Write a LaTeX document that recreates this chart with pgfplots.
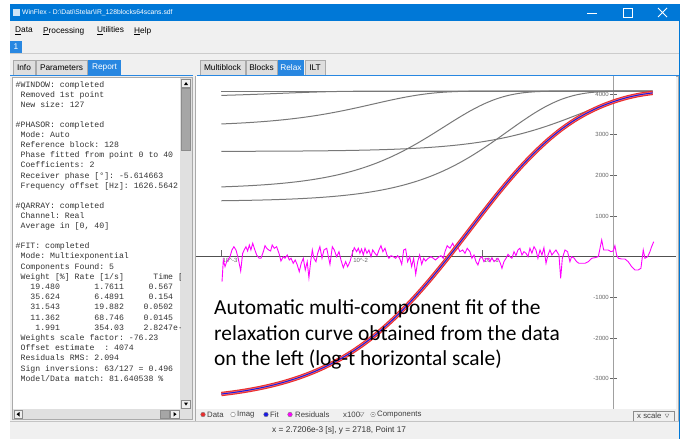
\documentclass[border=0pt]{standalone}
\usepackage{fontspec}
\setmainfont{Liberation Sans}
\setmonofont{Liberation Mono}
\newfontfamily\carlito{Carlito}
\usepackage{pgfplots}
\usepackage{pgfplotstable}
\pgfplotsset{compat=1.18}

\definecolor{winbg}{RGB}{240,240,240}
\definecolor{winblue}{RGB}{0,120,215}
\definecolor{tabblue}{RGB}{40,135,225}
\definecolor{tabgray}{RGB}{222,222,222}
\definecolor{frame}{RGB}{170,170,170}
\definecolor{compgray}{RGB}{120,120,120}
\definecolor{datared}{RGB}{235,45,45}
\definecolor{datapink}{RGB}{245,120,120}
\definecolor{fitblue}{RGB}{25,25,230}
\definecolor{resmag}{RGB}{255,0,255}
\definecolor{xaxis}{RGB}{80,80,80}
\definecolor{yaxis}{RGB}{160,160,160}

% fit curve and the five components (log10 t [s], value)
\pgfplotstableread{
logt fit c1 c2 c3 c4 c5
-3.0 -3378.7 2591.6 1376.0 1716.8 3265.4 3967.5
-2.9 -3337.8 2592.3 1380.5 1728.9 3279.7 3976.8
-2.8 -3287.9 2593.2 1386.2 1744.1 3297.3 3987.4
-2.7 -3227.5 2594.3 1393.3 1763.0 3318.9 3999.1
-2.6 -3154.6 2595.6 1402.3 1786.6 3345.2 4011.6
-2.5 -3067.6 2597.3 1413.5 1816.0 3377.1 4024.5
-2.4 -2964.3 2599.4 1427.6 1852.5 3415.3 4036.9
-2.3 -2842.5 2602.1 1445.3 1897.5 3460.3 4048.3
-2.2 -2699.8 2605.5 1467.3 1953.0 3512.7 4057.7
-2.1 -2533.6 2609.7 1494.8 2020.7 3572.3 4064.9
-2.0 -2340.9 2615.0 1529.0 2103.0 3638.5 4069.6
-1.9 -2119.3 2621.6 1571.4 2202.0 3709.5 4072.2
-1.8 -1866.8 2629.9 1623.8 2319.4 3782.7 4073.4
-1.7 -1582.4 2640.3 1688.2 2456.9 3854.3 4073.9
-1.6 -1267.2 2653.3 1766.9 2614.7 3920.0 4074.0
-1.5 -923.1 2669.5 1862.2 2791.7 3975.5 4074.0
-1.4 -553.5 2689.6 1976.7 2984.3 4017.9 4074.0
-1.3 -162.5 2714.5 2112.4 3186.3 4046.4 4074.0
-1.2 244.8 2745.2 2270.8 3388.2 4062.7 4074.0
-1.1 661.8 2782.9 2452.2 3578.4 4070.3 4074.0
-1.0 1079.5 2828.8 2654.8 3744.7 4073.1 4074.0
-0.9 1487.7 2884.3 2874.3 3877.2 4073.9 4074.0
-0.8 1876.8 2950.7 3103.0 3971.1 4074.0 4074.0
-0.7 2239.5 3029.0 3330.0 4028.5 4074.0 4074.0
-0.6 2571.5 3119.9 3541.9 4057.7 4074.0 4074.0
-0.5 2869.8 3223.2 3725.1 4069.5 4074.0 4074.0
-0.4 3131.5 3337.4 3868.9 4073.1 4074.0 4074.0
-0.3 3354.5 3459.7 3968.9 4073.9 4074.0 4074.0
-0.2 3539.9 3585.2 4028.7 4074.0 4074.0 4074.0
-0.1 3691.7 3707.4 4058.3 4074.0 4074.0 4074.0
0.0 3814.7 3818.8 4069.9 4074.0 4074.0 4074.0
0.1 3911.5 3912.3 4073.2 4074.0 4074.0 4074.0
0.2 3982.8 3982.9 4073.9 4074.0 4074.0 4074.0
0.3 4029.8 4029.8 4074.0 4074.0 4074.0 4074.0
}\fitdata

% residuals x100
\pgfplotstableread{
logt res
-2.995 -615
-2.985 -81
-2.972 -246
-2.959 -123
-2.934 0
-2.919 165
-2.904 246
-2.888 165
-2.871 -39
-2.852 -352
-2.837 84
-2.825 165
-2.812 246
-2.799 140
-2.786 288
-2.774 165
-2.760 330
-2.748 207
-2.730 42
-2.710 -39
-2.697 -39
-2.679 123
-2.666 271
-2.653 207
-2.638 165
-2.623 140
-2.611 288
-2.595 207
-2.577 246
-2.557 59
-2.544 -106
-2.526 0
-2.513 -39
-2.496 42
-2.480 -81
-2.467 -39
-2.450 -162
-2.435 -81
-2.419 -204
-2.404 -369
-2.389 -162
-2.373 -39
-2.358 -327
-2.343 -123
-2.330 -517
-2.317 -123
-2.304 165
-2.292 -39
-2.276 -123
-2.263 84
-2.246 246
-2.230 -39
-2.215 165
-2.194 207
-2.169 -188
-2.151 246
-2.136 165
-2.118 0
-2.100 123
-2.085 -81
-2.067 -270
-2.049 -123
-2.034 -246
-2.016 -123
-1.998 84
-1.983 222
-1.965 123
-1.952 207
-1.940 84
-1.927 189
-1.914 42
-1.901 207
-1.886 84
-1.871 165
-1.855 0
-1.842 165
-1.825 84
-1.809 25
-1.794 165
-1.779 271
-1.764 123
-1.748 207
-1.733 42
-1.718 -39
-1.702 25
-1.685 0
-1.666 -39
-1.651 25
-1.636 -39
-1.620 -188
-1.605 165
-1.590 189
-1.575 -123
-1.559 0
-1.544 -246
-1.529 -39
-1.513 -433
-1.498 -123
-1.483 42
-1.467 -188
-1.452 -39
-1.437 -106
-1.417 -39
-1.396 0
-1.379 -39
-1.361 -81
-1.340 -16
-1.320 25
-1.302 -39
-1.289 123
-1.272 271
-1.251 207
-1.230 330
-1.213 207
-1.195 271
-1.175 123
-1.154 165
-1.136 84
-1.119 207
-1.098 123
-1.083 -39
-1.067 42
-1.052 -123
-1.037 -204
-1.021 -39
-1.006 0
-0.991 -123
-0.976 -57
-0.960 -39
-0.945 -123
-0.930 -25
-0.914 -123
-0.899 -81
-0.884 -39
-0.868 -138
-0.853 -285
-0.838 -123
-0.822 -39
-0.807 59
-0.792 0
-0.777 -39
-0.761 123
-0.746 25
-0.731 165
-0.716 207
-0.700 42
-0.685 123
-0.669 84
-0.654 0
-0.639 207
-0.624 84
-0.608 246
-0.593 165
-0.578 -39
-0.562 165
-0.547 42
-0.532 222
-0.516 -162
-0.501 42
-0.486 165
-0.471 42
-0.455 108
-0.440 165
-0.417 42
-0.404 -531
-0.391 -39
-0.371 165
-0.351 123
-0.333 -123
-0.320 0
-0.300 -39
-0.282 -123
-0.264 -162
-0.243 -162
-0.218 -162
-0.193 -123
-0.167 -39
-0.142 -25
-0.116 0
-0.090 411
-0.075 165
-0.060 165
-0.040 165
-0.019 123
-0.002 140
0.011 271
0.024 42
0.037 -39
0.063 -57
0.088 -57
0.113 -123
0.139 -246
0.164 -327
0.190 -327
0.210 -285
0.228 165
0.241 -39
0.262 0
0.279 123
0.292 246
0.308 369
}\resdata

\newcommand{\ui}{\fontsize{8.3}{9}\selectfont}
\newcommand{\rep}{\ttfamily\fontsize{8.2}{9}\selectfont}

\begin{document}
\begin{tikzpicture}
\useasboundingbox (0pt,0pt) rectangle (686pt,-439pt);
\begin{scope}[x=1pt,y=-1pt]
  \fill[white] (0,0) rectangle (686,439);
  \fill[winbg] (10,4) rectangle (680,439);
  % title bar
  \fill[winblue] (10,4) rectangle (680,21);
  \fill[white!80!winblue] (13,9) rectangle (20,16);
  \node[anchor=west, text=white, inner sep=0, font=\fontsize{6.8}{7}\selectfont] at (22,12.5)
    {WinFlex - D:\textbackslash Dati\textbackslash Stelar\textbackslash IR\_128blocks64scans.sdf};
  \draw[white, line width=0.8] (587,13) -- (597,13);
  \draw[white, line width=0.8] (623,8.5) rectangle (632,17.5);
  \draw[white, line width=0.8] (658,8) -- (667,17) (658,17) -- (667,8);
  % menu
  \begin{scope}[every node/.style={anchor=west, inner sep=0, font=\ui, text=black}]
    \node at (15,31) {\underline{D}ata};
    \node at (43,31) {\underline{P}rocessing};
    \node at (97,31) {\underline{U}tilities};
    \node at (134,31) {\underline{H}elp};
  \end{scope}
  \draw[frame!60] (10,53.5) -- (680,53.5);
  \fill[tabblue] (10,41) rectangle (22,53);
  \node[text=white, inner sep=0, font=\ui] at (16,47) {1};
  % tabs
  \begin{scope}[every node/.style={inner sep=0, font=\ui}]
    \foreach \a/\b/\t in {13/35/Info, 36/87/Parameters, 200/245/Multiblock, 246/277/Blocks, 305/325/ILT}{
      \filldraw[fill=tabgray, draw=frame] (\a,60) rectangle (\b,75);
      \node at ({(\a+\b)/2},67.5) {\t};
    }
    \foreach \a/\b/\t in {88/121/Report, 278/304/Relax}{
      \fill[tabblue] (\a,60) rectangle (\b,75);
      \node[text=white] at ({(\a+\b)/2},67.5) {\t};
    }
  \end{scope}
  \draw[tabblue, line width=1.3] (10,75.5) -- (193,75.5) (197,75.5) -- (679,75.5);
  % report panel
  \fill[white] (13,78) rectangle (180,409);
  \draw[frame] (12.5,77.5) rectangle (192.5,419.5);
  \fill[black!12] (180,78) rectangle (192,409);
  \fill[black!12] (13,409) rectangle (192,419);
  \filldraw[fill=black!35, draw=black!45] (181.5,88) rectangle (190.5,150);
  \filldraw[fill=winbg, draw=black!45] (181.5,79) rectangle (190.5,87);
  \filldraw[fill=winbg, draw=black!45] (181.5,400) rectangle (190.5,408);
  \fill[black] (184,85) -- (188,85) -- (186,82) -- cycle;
  \fill[black] (184,402.5) -- (188,402.5) -- (186,405.5) -- cycle;
  \filldraw[fill=winbg, draw=black!45] (14,410.5) rectangle (22,418);
  \filldraw[fill=black!35, draw=black!45] (160,410.5) rectangle (169,418);
  \filldraw[fill=winbg, draw=black!45] (170,410.5) rectangle (179,418);
  \fill[black] (19.5,412) -- (19.5,416.5) -- (16.5,414.2) -- cycle;
  \fill[black] (173.5,412) -- (173.5,416.5) -- (176.5,414.2) -- cycle;
  \begin{scope}
    \clip (13,78) rectangle (180,409);
    \begin{scope}[every node/.style={anchor=west, inner sep=0, font=\rep, text=black!80}]
      \node at (15.5,85) {\#WINDOW: completed};
      \node at (15.5,95) {~Removed 1st point};
      \node at (15.5,105) {~New size: 127};
      \node at (15.5,125) {\#PHASOR: completed};
      \node at (15.5,135) {~Mode: Auto};
      \node at (15.5,145) {~Reference block: 128};
      \node at (15.5,155) {~Phase fitted from point 0 to 40};
      \node at (15.5,165) {~Coefficients: 2};
      \node at (15.5,176) {~Receiver phase [°]: -5.614663};
      \node at (15.5,186) {~Frequency offset [Hz]: 1626.5642};
      \node at (15.5,206) {\#QARRAY: completed};
      \node at (15.5,216) {~Channel: Real};
      \node at (15.5,226) {~Average in [0, 40]};
      \node at (15.5,246) {\#FIT: completed};
      \node at (15.5,256) {~Mode: Multiexponential};
      \node at (15.5,267) {~Components Found: 5};
      \node at (15.5,277) {~Weight [\%] Rate [1/s]~~~~~~Time [s]};
      \node at (15.5,287) {~~~19.480~~~~~~~1.7611~~~~~0.567};
      \node at (15.5,297) {~~~35.624~~~~~~~6.4891~~~~~0.154};
      \node at (15.5,307) {~~~31.543~~~~~~~19.882~~~~0.0502};
      \node at (15.5,318) {~~~11.362~~~~~~~68.746~~~~0.0145};
      \node at (15.5,328) {~~~~1.991~~~~~~~354.03~~~~2.8247e-3};
      \node at (15.5,338) {~Weights scale factor: -76.23};
      \node at (15.5,348) {~Offset estimate~~: 4074};
      \node at (15.5,358) {~Residuals RMS: 2.094};
      \node at (15.5,369) {~Sign inversions: 63/127 = 0.496};
      \node at (15.5,379) {~Model/Data match: 81.640538 \%};
    \end{scope}
  \end{scope}
  % right panel frame and toolbar
  \draw[frame] (195.5,76) rectangle (678,421);
  \fill[white] (196,76) rectangle (676,409);
  \begin{scope}[every node/.style={anchor=west, inner sep=0, font=\fontsize{7.8}{8}\selectfont, text=black!75}]
    \filldraw[fill=datared, draw=black!50, line width=0.4] (203,414.5) circle (2.3);
    \node at (207,414.5) {Data};
    \filldraw[fill=white, draw=black!50, line width=0.4] (233,414.5) circle (2.3);
    \node at (237,414.5) {Imag};
    \filldraw[fill=fitblue, draw=black!50, line width=0.4] (266,414.5) circle (2.3);
    \node at (270,414.5) {Fit};
    \filldraw[fill=resmag, draw=black!50, line width=0.4] (290,414.5) circle (2.3);
    \node at (295,414.5) {Residuals};
    \node at (343,414.5) {x100};
    \draw[black!50, line width=0.4] (359,412.5) -- (364,412.5) -- (361.5,416.5) -- cycle;
    \filldraw[fill=white, draw=black!50, line width=0.4] (373,414.5) circle (2.3);
    \fill[black!50] (373,414.5) circle (0.9);
    \node at (377,414.5) {Components};
    \filldraw[fill=winbg, draw=black!45] (633,411) rectangle (674,421);
    \node at (637,416) {x scale};
    \draw[black!50, line width=0.4] (665,414) -- (669,414) -- (667,417.5) -- cycle;
  \end{scope}
  % status bar
  \draw[frame!70] (10,421.5) -- (680,421.5);
  \node[anchor=west, inner sep=0, font=\ui, text=black!80] at (272,430.5)
    {x = 2.7206e-3 [s], y = 2718, Point 17};
  \draw[winblue, line width=1.2] (679.4,4) -- (679.4,439);
\end{scope}

\begin{axis}[
    at={(196pt,-76pt)}, anchor=north west,
    width=480pt, height=333pt, scale only axis,
    xmin=-3.194, xmax=0.4785,
    ymin=-3747, ymax=4445,
    axis x line=middle, axis y line=middle,
    axis line style={-},
    x axis line style={color=xaxis, line width=1.2pt},
    y axis line style={color=yaxis, line width=1.4pt},
    xtick={-3,-2,-1},
    xticklabels={10\textasciicircum-3, 10\textasciicircum-2, 10\textasciicircum-1},
    ytick={-3000,-2000,-1000,1000,2000,3000,4000},
    yticklabels={-3000,-2000,-1000,1000,2000,3000,4000},
    xtick align=inside, ytick align=center,
    major tick length=7pt,
    tick style={color=black!60, line width=0.7pt},
    xticklabel style={anchor=north west, inner sep=1pt, text=black!60, font=\fontsize{6}{6}\selectfont},
    yticklabel style={anchor=east, inner sep=1pt, text=black!60, font=\fontsize{6}{6}\selectfont},
  ]
  \addplot[compgray, line width=1pt] coordinates {(-3,4074) (0.3,4074)};
  \addplot[compgray, line width=1pt, smooth] table[x=logt, y=c1] {\fitdata};
  \addplot[compgray, line width=1pt, smooth] table[x=logt, y=c2] {\fitdata};
  \addplot[compgray, line width=1pt, smooth] table[x=logt, y=c3] {\fitdata};
  \addplot[compgray, line width=1pt, smooth] table[x=logt, y=c4] {\fitdata};
  \addplot[compgray, line width=1pt, smooth] table[x=logt, y=c5] {\fitdata};
  \addplot[resmag, line width=0.9pt] table[x=logt, y=res] {\resdata};
  % data: dense red squares, drawn as a band
  \addplot[datared, line width=4.4pt, smooth] table[x=logt, y=fit] {\fitdata};
  \addplot[datapink, line width=2.2pt, smooth] table[x=logt, y=fit] {\fitdata};
  \addplot[fitblue, line width=1pt, smooth] table[x=logt, y=fit] {\fitdata};
\end{axis}

\begin{scope}[x=1pt,y=-1pt]
  \begin{scope}[every node/.style={anchor=base west, inner sep=0, font=\carlito\fontsize{21.4}{26}\selectfont, text=black}]
    \node at (214,314.3) {Automatic multi-component fit of the};
    \node at (214,340) {relaxation curve obtained from the data};
    \node at (214,365.7) {on the left (log-t horizontal scale)};
  \end{scope}
\end{scope}
\end{tikzpicture}
\end{document}
